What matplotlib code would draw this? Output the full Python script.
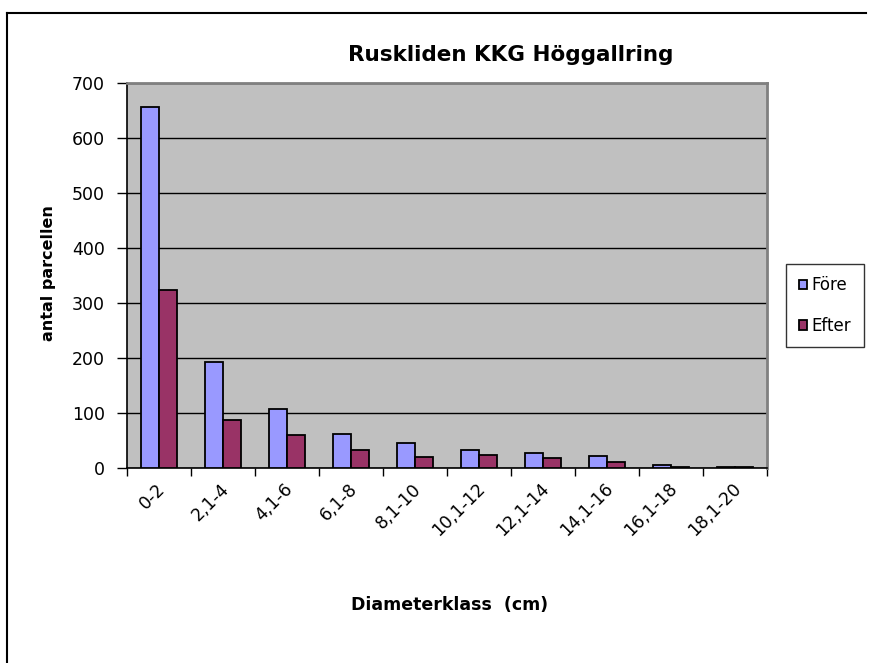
import matplotlib
matplotlib.use("Agg")
import matplotlib.pyplot as plt
from matplotlib.lines import Line2D
from matplotlib.patches import Patch
import numpy as np

# Diameter classes and stem counts before/after thinning
categories = ["0-2", "2,1-4", "4,1-6", "6,1-8", "8,1-10",
              "10,1-12", "12,1-14", "14,1-16", "16,1-18", "18,1-20"]
fore = [655, 192, 108, 62, 45, 33, 28, 21, 5, 2]
efter = [323, 88, 60, 33, 20, 23, 18, 10, 2, 1]
series_names = ["Före", "Efter"]
yticks = [0, 100, 200, 300, 400, 500, 600, 700]

plt.rcParams["font.family"] = ["DejaVu Sans"]

W, H = 871, 663
fig = plt.figure(figsize=(W / 100, H / 100), dpi=100)
fig.patch.set_facecolor("white")

ax = fig.add_axes([127 / W, 1 - 468 / H, (767 - 127) / W, (468 - 82.5) / H])
ax.set_facecolor("#C0C0C0")

x = np.arange(len(categories))
bw = 0.28
ax.bar(x - bw / 2, fore, width=bw, color="#9999FF", edgecolor="black",
       linewidth=1.3, zorder=3, label=series_names[0])
ax.bar(x + bw / 2, efter, width=bw, color="#993366", edgecolor="black",
       linewidth=1.3, zorder=3, label=series_names[1])

ax.set_xlim(-0.5, len(categories) - 0.5)
ax.set_ylim(0, 700)
ax.set_yticks(yticks)
ax.set_yticklabels([str(v) for v in yticks], fontsize=12.5)
ax.yaxis.grid(True, color="black", linewidth=1.0, zorder=1)
ax.set_axisbelow(True)

# category ticks sit between groups, labels at group centres
ax.set_xticks(np.arange(len(categories) + 1) - 0.5)
ax.set_xticklabels([])
ax.set_xticks(x + 0.05, minor=True)
ax.set_xticklabels(categories, minor=True, rotation=45, ha="right",
                   va="center", rotation_mode="anchor", fontsize=12.5)
ax.tick_params(axis="x", which="minor", length=0, pad=13)
ax.tick_params(axis="x", which="major", length=6, width=1, direction="out", color="black")
ax.tick_params(axis="y", length=7, width=1, direction="out", pad=9, color="black")

for s in ["left", "bottom"]:
    ax.spines[s].set_color("black")
    ax.spines[s].set_linewidth(1.2)
for s in ["top", "right"]:
    ax.spines[s].set_color("#808080")
    ax.spines[s].set_linewidth(2)

fig.text(511 / W, 1 - 55 / H, "Ruskliden KKG Höggallring", ha="center",
         va="center", fontsize=15.5, fontweight="bold")
fig.text(450 / W, 1 - 605 / H, "Diameterklass  (cm)", ha="center",
         va="center", fontsize=12.5, fontweight="bold")
fig.text(49 / W, 1 - 273 / H, "antal parcellen", ha="center", va="center",
         rotation=90, fontsize=11.5, fontweight="bold")

handles = [Patch(facecolor="#9999FF", edgecolor="black", linewidth=1.3),
           Patch(facecolor="#993366", edgecolor="black", linewidth=1.3)]
leg = fig.legend(handles, series_names, loc="upper left",
                 bbox_to_anchor=(786 / W, 1 - 264 / H), fontsize=12,
                 frameon=True, fancybox=False, edgecolor="black",
                 handlelength=0.5, handleheight=0.5, handletextpad=0.3,
                 labelspacing=1.35, borderpad=0.75, borderaxespad=0)
leg.get_frame().set_linewidth(1.0)

# outer chart frame (top and left edges)
fig.add_artist(Line2D([7 / W, 866 / W], [1 - 13 / H, 1 - 13 / H],
                      transform=fig.transFigure, color="black", linewidth=1.5))
fig.add_artist(Line2D([7 / W, 7 / W], [0, 1 - 13 / H],
                      transform=fig.transFigure, color="black", linewidth=1.5))

fig.savefig("out.png", dpi=100)
